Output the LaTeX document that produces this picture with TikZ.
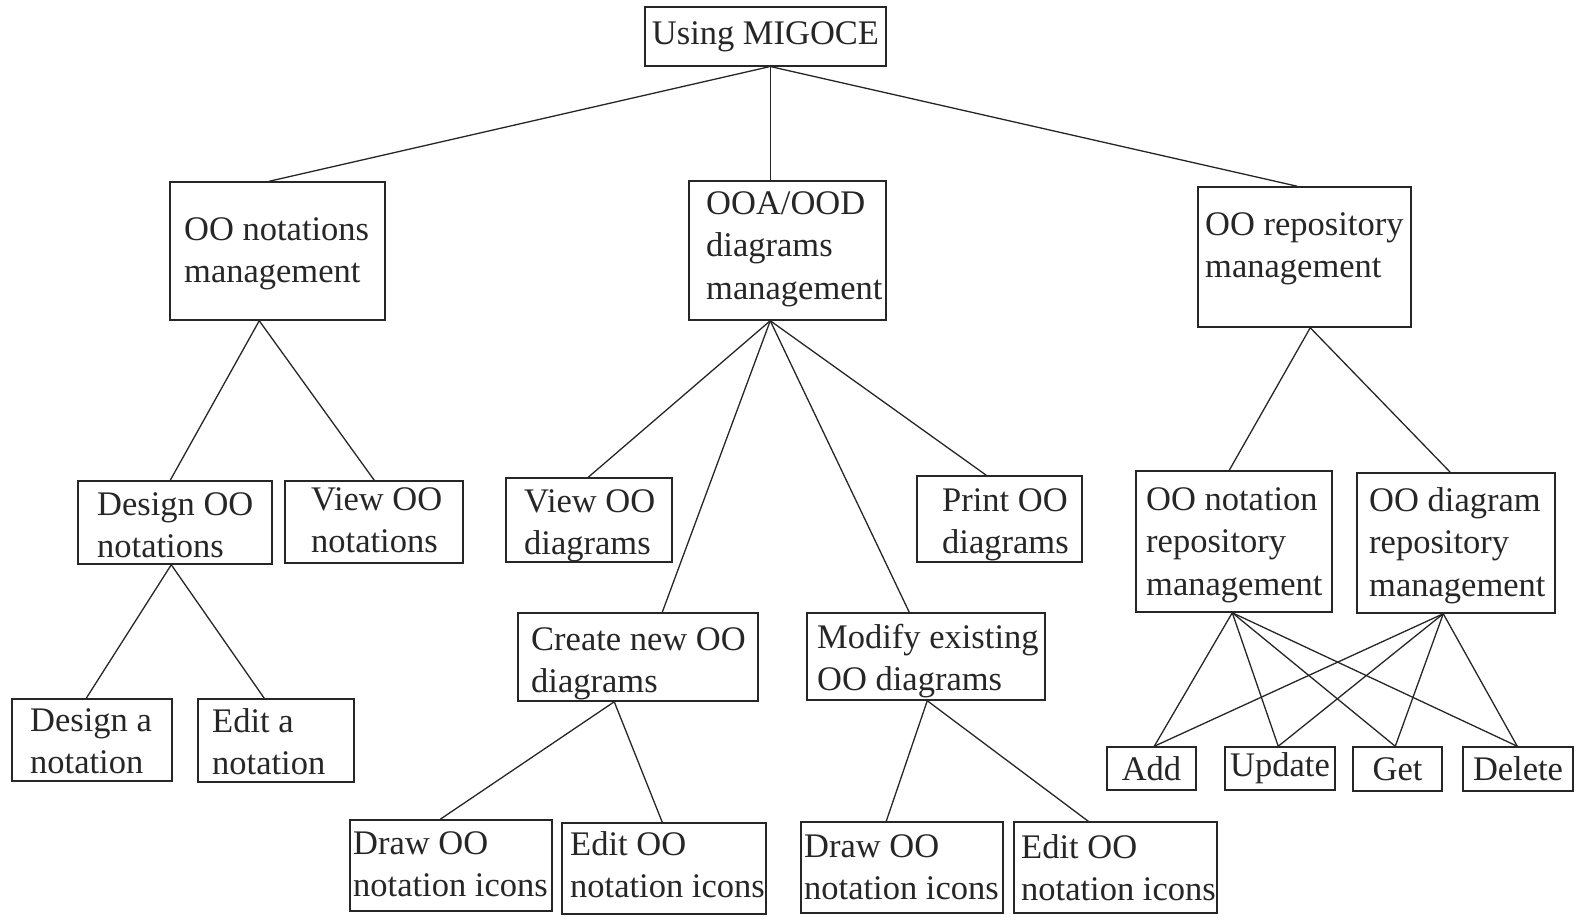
\documentclass[tikz,border=0pt]{standalone}
\usepackage{fontspec}
\setmainfont{Liberation Serif}
\usetikzlibrary{calc}
\definecolor{ink}{gray}{0.15}
\begin{document}
\begin{tikzpicture}[x=1pt,y=-1pt,
  box/.style={draw=ink, line width=1.5pt, rectangle, inner sep=0pt, text=ink,
    font=\fontsize{34.5}{42.5}\selectfont},
  txt/.style={inner sep=0pt, align=left, anchor=north west, text=ink,
    font=\fontsize{34.5}{42.5}\selectfont, yshift=-2.5pt},
  link/.style={draw=ink, line width=1.3pt}]
\useasboundingbox (0,0) rectangle (1579,920);

% boxes
\node[box, minimum width=241pt, minimum height=59pt] (root) at (765.5,36.5) {Using MIGOCE};
\node[box, minimum width=215pt, minimum height=138pt] (notm) at (277.5,251) {};
\node[box, minimum width=197pt, minimum height=139pt] (diam) at (787.5,250.5) {};
\node[box, minimum width=213pt, minimum height=140pt] (repm) at (1304.5,257) {};
\node[box, minimum width=194pt, minimum height=83pt] (dsgn) at (175,522.5) {};
\node[box, minimum width=178pt, minimum height=82pt] (viewn) at (374,522) {};
\node[box, minimum width=166pt, minimum height=84pt] (viewd) at (589,520) {};
\node[box, minimum width=165pt, minimum height=86pt] (print) at (999.5,519) {};
\node[box, minimum width=196pt, minimum height=141pt] (nrep) at (1234,541.5) {};
\node[box, minimum width=198pt, minimum height=140pt] (drep) at (1456,543) {};
\node[box, minimum width=240pt, minimum height=88pt] (create) at (638,657) {};
\node[box, minimum width=238pt, minimum height=87pt] (modify) at (926,656.5) {};
\node[box, minimum width=160pt, minimum height=82pt] (dsgna) at (92,740) {};
\node[box, minimum width=156pt, minimum height=83pt] (edita) at (276,740.5) {};
\node[box, minimum width=89pt, minimum height=43pt] (add) at (1151.5,768.5) {Add};
\node[box, minimum width=110pt, minimum height=43pt] (upd) at (1280,768.5) {Update};
\node[box, minimum width=89pt, minimum height=44pt] (get) at (1397.5,769) {Get};
\node[box, minimum width=110pt, minimum height=44pt] (del) at (1518,769) {Delete};
\node[box, minimum width=202pt, minimum height=91pt] (draw1) at (451,865.5) {};
\node[box, minimum width=204pt, minimum height=91pt] (edit1) at (664,868.5) {};
\node[box, minimum width=202pt, minimum height=91pt] (draw2) at (902,867.5) {};
\node[box, minimum width=203pt, minimum height=91pt] (edit2) at (1115.5,867.5) {};

% box texts
\node[txt] (notm-t) at (184,214.5) {OO notations\\management};
\node[txt] (diam-t) at (706,188.5) {OOA/OOD\\diagrams\\management};
\node[txt] (repm-t) at (1205,209.5) {OO repository\\management};
\node[txt] (dsgn-t) at (97,489.5) {Design OO\\notations};
\node[txt] (viewn-t) at (311,484.5) {View OO\\notations};
\node[txt] (viewd-t) at (524,486.5) {View OO\\diagrams};
\node[txt] (print-t) at (942,485.5) {Print OO\\diagrams};
\node[txt] (nrep-t) at (1146,484.5) {OO notation\\repository\\management};
\node[txt] (drep-t) at (1369,484.5) {OO diagram\\repository\\management};
\node[txt] (create-t) at (531,624.5) {Create new OO\\diagrams};
\node[txt] (modify-t) at (817,621.5) {Modify existing\\OO diagrams};
\node[txt] (dsgna-t) at (30,705.5) {Design a\\notation};
\node[txt] (edita-t) at (212,705.5) {Edit a\\notation};
\node[txt] (draw1-t) at (353,828.5) {Draw OO\\notation icons};
\node[txt] (edit1-t) at (570,828.5) {Edit OO\\notation icons};
\node[txt] (draw2-t) at (804,831.5) {Draw OO\\notation icons};
\node[txt] (edit2-t) at (1021,831.5) {Edit OO\\notation icons};

% connectors
\draw[link] ([xshift=125pt]root.south west) -- ([xshift=100pt]notm.north west);
\draw[link] ([xshift=126pt]root.south west) -- ([xshift=82pt]diam.north west);
\draw[link] ([xshift=127pt]root.south west) -- ([xshift=100pt]repm.north west);

\draw[link] ([xshift=90pt]notm.south west) -- ([xshift=93pt]dsgn.north west);
\draw[link] ([xshift=90pt]notm.south west) -- ([xshift=90pt]viewn.north west);

\draw[link] ([xshift=82pt]diam.south west) -- ([xshift=83pt]viewd.north west);
\draw[link] ([xshift=82pt]diam.south west) -- ([xshift=145pt]create.north west);
\draw[link] ([xshift=82pt]diam.south west) -- ([xshift=103pt]modify.north west);
\draw[link] ([xshift=82pt]diam.south west) -- ([xshift=70pt]print.north west);

\draw[link] ([xshift=113pt]repm.south west) -- ([xshift=94pt]nrep.north west);
\draw[link] ([xshift=113pt]repm.south west) -- ([xshift=94pt]drep.north west);

\draw[link] ([xshift=94pt]dsgn.south west) -- ([xshift=75pt]dsgna.north west);
\draw[link] ([xshift=94pt]dsgn.south west) -- ([xshift=67pt]edita.north west);

\draw[link] ([xshift=97pt]create.south west) -- ([xshift=91pt]draw1.north west);
\draw[link] ([xshift=97pt]create.south west) -- ([xshift=101pt]edit1.north west);

\draw[link] ([xshift=121pt]modify.south west) -- ([xshift=86pt]draw2.north west);
\draw[link] ([xshift=121pt]modify.south west) -- ([xshift=75pt]edit2.north west);

\foreach \src/\sx in {nrep/97, drep/87}{
  \draw[link] ([xshift=\sx pt]\src.south west) -- ([xshift=48pt]add.north west);
  \draw[link] ([xshift=\sx pt]\src.south west) -- ([xshift=54pt]upd.north west);
  \draw[link] ([xshift=\sx pt]\src.south west) -- ([xshift=43pt]get.north west);
  \draw[link] ([xshift=\sx pt]\src.south west) -- ([xshift=55pt]del.north west);
}
\end{tikzpicture}
\end{document}
